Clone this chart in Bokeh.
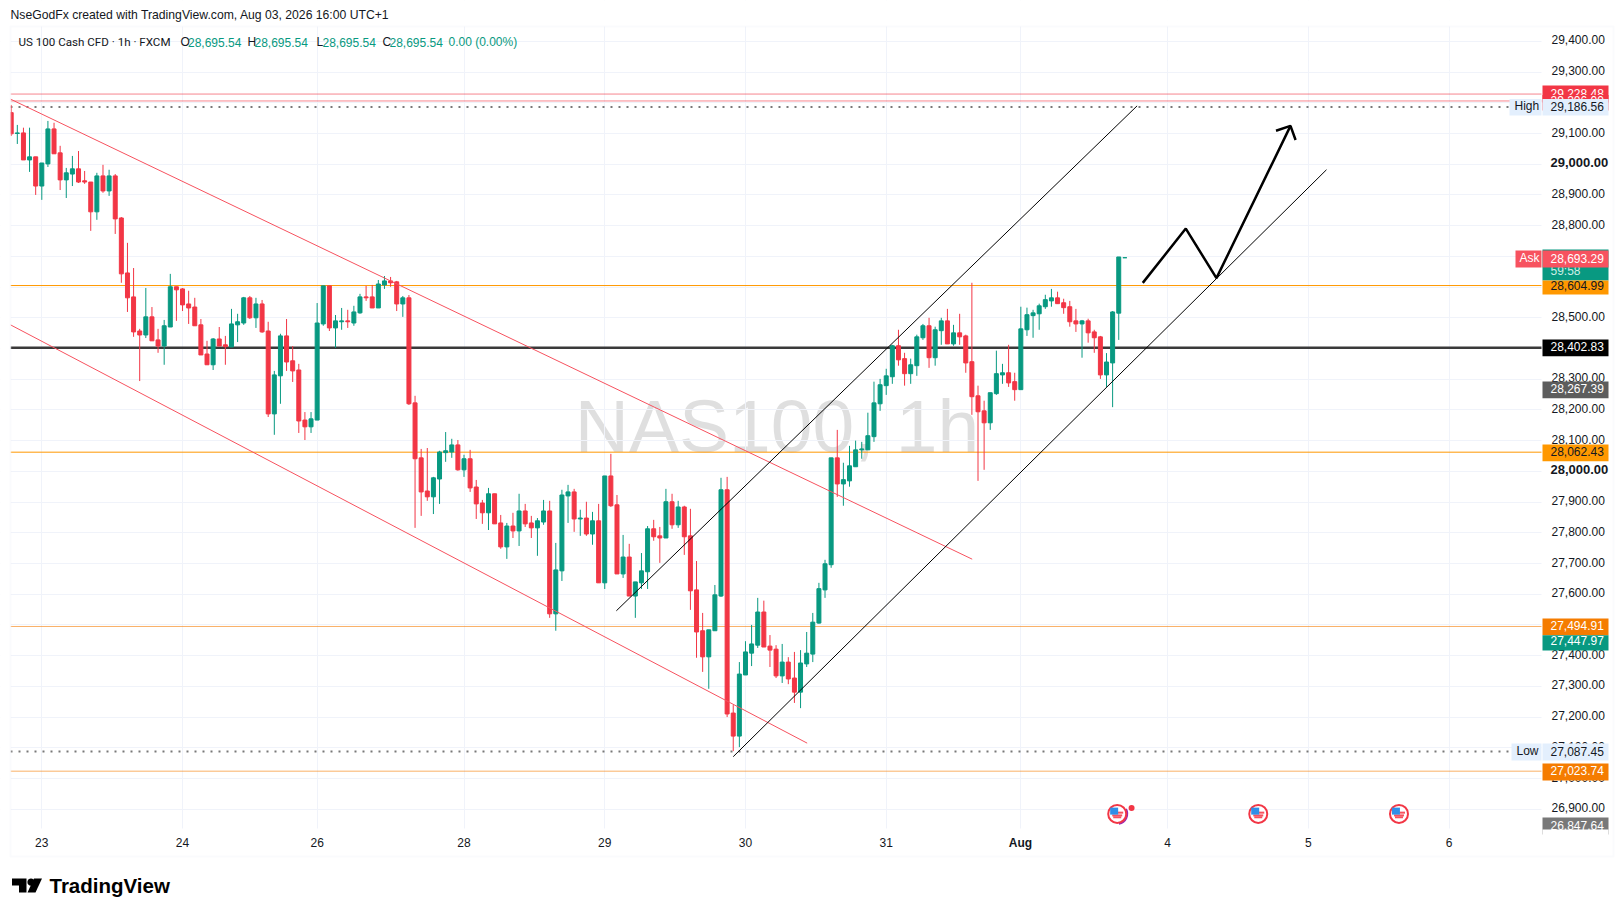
import math
import numpy as np
from bokeh.embed import file_html
from bokeh.resources import INLINE
from bokeh.plotting import figure
from bokeh.core.properties import value
from bokeh.models import (BoxAnnotation, FixedTicker, Grid, Label, LinearAxis,
                          NumeralTickFormatter, PolyAnnotation, Range1d)

opens = [29168,29100,29102,29014,29024,28929,29001,29115,29037,28949,
 28968,28985,28946,28942,28845,28962,28913,28962,28825,28646,
 28568,28457,28444,28503,28428,28408,28470,28601,28594,28545,
 28535,28477,28382,28347,28431,28412,28405,28477,28483,28565,
 28500,28545,28457,28187,28311,28441,28360,28330,28167,28145,
 28167,28480,28604,28467,28487,28490,28483,28516,28568,28568,
 28532,28607,28620,28617,28545,28565,28223,28044,27936,27917,
 27975,28061,28063,28086,28005,28041,27949,27897,27865,27927,
 27832,27754,27822,27806,27871,27832,27816,27835,27871,27536,
 27676,27920,27933,27845,27848,27796,27839,27637,27985,27891,
 27666,27721,27594,27637,27673,27813,27790,27783,27901,27826,
 27884,27790,27614,27481,27396,27481,27594,27940,27213,27138,
 27337,27408,27434,27542,27431,27421,27334,27379,27327,27281,
 27373,27405,27506,27614,27696,28044,27959,27969,28015,28070,
 28070,28113,28220,28279,28308,28409,28367,28318,28344,28435,
 28474,28370,28458,28490,28415,28451,28441,28357,28246,28197,
 28158,28253,28314,28321,28292,28266,28461,28507,28513,28536,
 28555,28565,28549,28536,28490,28480,28490,28454,28438,28314,28353,28515,28695.54]
highs = [29193,29128,29119,29119,29024,29004,29141,29135,29060,28988,
 29027,29043,28978,28942,28972,28998,28982,28968,28828,28744,
 28662,28464,28597,28535,28464,28493,28643,28601,28597,28588,
 28565,28496,28425,28434,28470,28441,28529,28513,28568,28571,
 28565,28558,28487,28327,28448,28496,28408,28350,28193,28193,
 28548,28604,28604,28509,28532,28526,28539,28578,28604,28607,
 28623,28636,28633,28620,28571,28574,28246,28073,28076,27982,
 28067,28128,28106,28102,28054,28070,27972,27907,27946,27927,
 27858,27832,27865,27927,27894,27855,27848,27907,27904,27767,
 27940,27956,27943,27875,27901,27868,27894,27985,28057,27923,
 27793,27764,27640,27734,27822,27842,27819,27943,27927,27904,
 27888,27878,27708,27539,27484,27630,27979,27982,27239,27379,
 27447,27500,27588,27579,27467,27434,27438,27395,27412,27418,
 27477,27539,27637,27712,28044,28135,28028,28083,28100,28096,
 28191,28292,28301,28334,28412,28461,28386,28367,28445,28480,
 28500,28471,28500,28529,28477,28513,28445,28614,28279,28230,
 28256,28393,28350,28412,28321,28536,28533,28526,28546,28575,
 28594,28585,28562,28555,28529,28493,28497,28461,28441,28385,28522,28698,28695.54]
lows = [29092,29066,29014,28975,28900,28884,28991,29034,28916,28890,
 28929,28939,28936,28783,28819,28907,28897,28773,28614,28519,
 28438,28294,28434,28425,28386,28347,28470,28490,28522,28480,
 28474,28379,28347,28330,28408,28347,28405,28421,28477,28496,
 28467,28451,28177,28119,28220,28327,28291,28125,28102,28125,
 28167,28474,28457,28402,28461,28467,28474,28513,28555,28532,
 28532,28594,28601,28522,28503,28216,27816,27855,27904,27861,
 27894,28031,28044,28002,27982,27933,27845,27829,27809,27829,
 27748,27715,27783,27757,27819,27783,27725,27826,27523,27481,
 27643,27832,27803,27790,27790,27761,27637,27617,27884,27666,
 27653,27594,27523,27617,27617,27774,27702,27783,27813,27816,
 27728,27549,27393,27347,27292,27481,27591,27200,27089,27102,
 27337,27366,27425,27428,27363,27327,27311,27307,27246,27229,
 27363,27379,27504,27588,27686,27917,27888,27950,28015,28041,
 28070,28096,28197,28249,28285,28344,28279,28285,28311,28428,
 28337,28344,28412,28415,28409,28412,28321,28184,27969,28005,
 28135,28249,28285,28275,28230,28266,28441,28435,28461,28529,
 28536,28546,28513,28471,28454,28370,28419,28386,28301,28275,28209,28428,28695.54]
closes = [29099,29102,29014,29024,28929,29004,29115,29034,28949,28972,
 28985,28942,28942,28845,28962,28913,28962,28822,28643,28565,
 28454,28444,28503,28425,28408,28474,28601,28591,28542,28532,
 28474,28379,28347,28431,28408,28406,28480,28487,28565,28500,
 28545,28454,28187,28314,28441,28356,28327,28164,28145,28171,
 28483,28604,28467,28490,28490,28487,28519,28568,28565,28532,
 28610,28620,28614,28545,28565,28220,28041,27933,27917,27979,
 28063,28067,28086,28005,28041,27946,27894,27865,27927,27829,
 27754,27822,27806,27871,27829,27816,27839,27871,27536,27679,
 27923,27933,27845,27848,27796,27839,27637,27985,27888,27666,
 27721,27594,27640,27676,27813,27787,27783,27901,27826,27884,
 27787,27611,27477,27396,27484,27598,27940,27210,27138,27340,
 27412,27438,27542,27428,27418,27334,27379,27324,27281,27376,
 27408,27509,27618,27699,28044,27959,27973,28018,28070,28073,
 28116,28223,28282,28311,28409,28363,28318,28347,28438,28474,
 28370,28461,28490,28415,28451,28438,28353,28243,28194,28158,
 28256,28318,28321,28288,28266,28464,28510,28516,28539,28559,
 28565,28546,28533,28487,28480,28490,28451,28435,28314,28356,28519,28698,28695.54]

day_bars = [6, 29, 51, 75, 98, 121, 144, 166, 190, 213, 236]
day_labels = ["23", "24", "26", "28", "29", "30", "31", "Aug", "4", "5", "6"]
price_ticks = list(range(26900, 29500, 100))

orange_levels = [28604.99, 28062.43]
soft_orange_levels = [27494.91, 27023.74]
red_levels = [29228.48, 29206.00]
black_level = 28402.83
high_price = 29186.56
low_price = 27087.45

red_lines = [([0.885, 158.05], [29212, 27714]), ([0.885, 131.08], [28477, 27115])]
black_lines = [([99.9, 185.0], [27546, 29190]), ([119.0, 215.95], [27071, 28982])]
path_bars = [185.93, 192.96, 197.97, 210.07]
path_prices = [28613.7, 28790.5, 28629, 29125]
head_bars = [207.7, 210.07, 210.9]
head_prices = [29109, 29125, 29079]

event_bars = [181.75, 204.8, 227.8]
event_price = 26884.7

GREEN, RED = "#089981", "#f23645"
FONT = "Liberation Sans"

idx = np.arange(1, len(opens) + 1)
o, h, l, c = map(np.array, (opens, highs, lows, closes))
colors = np.where(c >= o, GREEN, RED).tolist()

W, H = 1620, 912
x_lo, x_hi = -0.749, 264.0
y_lo, y_hi = 26563.6, 29533.1
p = figure(width=W, height=H, output_backend="svg", toolbar_location=None,
           x_range=Range1d(x_lo, x_hi), y_range=Range1d(y_lo, y_hi),
           x_axis_location=None, y_axis_location=None,
           min_border_left=0, min_border_right=0, min_border_top=0, min_border_bottom=0,
           outline_line_color=None, background_fill_color="white", border_fill_color="white")
p.grid.visible = False
p.extra_y_ranges = {"ax": Range1d(y_lo - 4.5, y_hi - 4.5)}

GRID = "#f0f3fa"
p.add_layout(Grid(dimension=0, ticker=FixedTicker(ticks=day_bars), grid_line_color=GRID))
p.add_layout(Grid(dimension=1, ticker=FixedTicker(ticks=price_ticks), grid_line_color=GRID))


def strip(x0, y0, x1, y1, level):
    p.add_layout(BoxAnnotation(left=x0, right=x1, top=y0, bottom=y1,
                               left_units="canvas", right_units="canvas", top_units="canvas", bottom_units="canvas",
                               fill_color="white", fill_alpha=1, line_color=None, level=level))


strip(0, 0, W, 26, "underlay")
strip(0, 828, W, H, "underlay")
strip(0, 0, 10, H, "underlay")
strip(1541, 0, W, H, "underlay")

yax = LinearAxis(y_range_name="ax", ticker=FixedTicker(ticks=price_ticks),
                 formatter=NumeralTickFormatter(format="0,0.00"),
                 axis_line_color=None, major_tick_line_color=None, minor_tick_line_color=None,
                 major_label_text_font=FONT, major_label_text_font_size="12px",
                 major_label_text_color="#131722", major_label_standoff=-75,
                 major_label_overrides={29000: "", 28000: ""})
p.add_layout(yax, "right")
xax = LinearAxis(ticker=FixedTicker(ticks=day_bars),
                 axis_line_color=None, major_tick_line_color=None, minor_tick_line_color=None,
                 major_label_text_font=FONT, major_label_text_font_size="12px",
                 major_label_text_color="#131722", major_label_standoff=-81,
                 major_label_overrides={b: ("" if t == "Aug" else t) for b, t in zip(day_bars, day_labels)})
p.add_layout(xax, "below")

# watermark
p.text(x=[93.1], y=[28149], text=["NAS100, 1h"], text_font=value(FONT), text_font_size=value("75px"),
       text_color="#808080", text_alpha=0.25, text_baseline="alphabetic", level="underlay")

# horizontal levels
x0, x1 = 0.885, 251.09
p.segment(x0=[x0]*2, x1=[x1]*2, y0=orange_levels, y1=orange_levels, line_color="#ff9800", line_width=1)
p.segment(x0=[x0]*2, x1=[x1]*2, y0=soft_orange_levels, y1=soft_orange_levels, line_color="#f57c00",
          line_alpha=0.6, line_width=1)
p.segment(x0=[x0]*2, x1=[x1]*2, y0=red_levels, y1=red_levels, line_color="#f23645", line_alpha=0.6, line_width=1)
p.segment(x0=[x0], x1=[x1], y0=[black_level], y1=[black_level], line_color="#3a3a3a", line_width=2.5)
p.segment(x0=[x0], x1=[245.86], y0=[high_price], y1=[high_price], line_color="#787878", line_width=2, line_dash="2 6")
p.segment(x0=[x0], x1=[246.2], y0=[low_price], y1=[low_price], line_color="#787878", line_width=2, line_dash="2 6")

# candles
p.segment(x0=idx, x1=idx, y0=l, y1=h, line_color=colors, line_width=1)
p.vbar(x=idx, top=np.maximum(o, c), bottom=np.minimum(o, c), width=0.65,
       fill_color=colors, line_color=colors, line_width=1)

# drawings
for xs, ys in red_lines:
    p.line(xs, ys, line_color="#f7525f", line_width=1)
for xs, ys in black_lines:
    p.line(xs, ys, line_color="#000000", line_width=1)
p.line(path_bars, path_prices, line_color="#000000", line_width=2.5)
p.line(head_bars, head_prices, line_color="#000000", line_width=2.5)

# event markers
ev_y = [event_price] * len(event_bars)
p.arc(x=[event_bars[0]], y=[event_price], radius=10, radius_units="screen", start_angle=-1.4, end_angle=0.5,
      line_color="#9c27b0", line_width=2)
p.scatter(x=[184.1], y=[26904], size=6, marker="circle", fill_color=RED, line_color=None)
p.scatter(x=event_bars, y=ev_y, size=18, marker="circle", fill_color="white", line_color="#f23645", line_width=2)
p.rect(x=event_bars, y=[event_price + 4]*3, width=12, height=2, width_units="screen", height_units="screen",
       fill_color="#f7525f", line_color=None)
p.rect(x=event_bars, y=[event_price - 5]*3, width=10, height=2, width_units="screen", height_units="screen",
       fill_color="#f7525f", line_color=None)
p.rect(x=event_bars, y=[event_price - 11]*3, width=8, height=2, width_units="screen", height_units="screen",
       fill_color="#f7525f", line_color=None)
p.rect(x=[b - 0.5 for b in event_bars], y=[event_price + 9]*3, width=8, height=7, width_units="screen", height_units="screen",
       fill_color="#2f8fe8", line_color=None)


def box(px0, py0, px1, py1, fill):
    p.add_layout(BoxAnnotation(left=px0, right=px1, top=py0, bottom=py1,
                               left_units="canvas", right_units="canvas", top_units="canvas", bottom_units="canvas",
                               fill_color=fill, fill_alpha=1, line_color=None))


def text(px, py, s, color="#131722", size="12px", style="normal", align="left", font=FONT):
    p.add_layout(Label(x=px, y=py, x_units="canvas", y_units="canvas", text=s, text_color=color,
                       text_font=font, text_font_size=size, text_font_style=style,
                       text_align=align, text_baseline="middle"))


# left clip of the first candle
strip(0, 26, 10, 828, "annotation")

TX = 1550
BX0, BX1 = 1542, 1608
text(TX, 161.5, "29,000.00", size="13px", style="bold")
text(TX, 469.2, "28,000.00", size="13px", style="bold")
text(1020, 842, "Aug", size="12px", style="bold", align="center")

box(BX0, 85, BX1, 102, RED); text(TX, 93, "29,228.48", "white")
box(BX0, 94.5, BX1, 110, RED); text(TX, 100, "29,206.00", "white")
box(1509, 98.5, 1541, 115, "#e3effd"); text(1514, 105.5, "High")
box(BX0, 98.5, BX1, 115, "#e3effd"); text(TX, 105.5, "29,186.56")

box(BX0, 249, BX1, 280, GREEN); text(TX, 270.5, "59:58", "#cdeee6")
box(BX0, 280, BX1, 294, "#ff9800"); text(TX, 284.5, "28,604.99", "#131722")
box(1515, 250, 1541, 267, "#f7525f"); text(1519, 257.5, "Ask", "white")
box(BX0, 250, BX1, 267, "#f7525f"); text(TX, 257.5, "28,693.29", "white")

box(BX0, 339, BX1, 355.7, "#000000"); text(TX, 346, "28,402.83", "white")
box(BX0, 381, BX1, 397.7, "#5d5d5d"); text(TX, 388, "28,267.39", "white")
box(BX0, 444, BX1, 460.7, "#ff9800"); text(TX, 451, "28,062.43", "#131722")
box(BX0, 618, BX1, 634.7, "#f57c00"); text(TX, 625, "27,494.91", "white")
box(BX0, 634.7, BX1, 650, GREEN); text(TX, 640, "27,447.97", "white")
box(1511, 743, 1541, 760, "#e3effd"); text(1516, 750.5, "Low")
box(BX0, 743, BX1, 760, "#e3effd"); text(TX, 750.5, "27,087.45")
box(BX0, 763, BX1, 780, "#f57c00"); text(TX, 770, "27,023.74", "white")
box(BX0, 817, BX1, 834, "#787878"); text(TX, 825, "26,847.64", "white")
box(BX0, 829, BX1, 836, "white")

# panel border
p.add_layout(BoxAnnotation(left=10, right=1613, top=26, bottom=856,
                           left_units="canvas", right_units="canvas", top_units="canvas", bottom_units="canvas",
                           fill_alpha=0, line_color="#f0f3fa", line_width=2))

# header
text(10, 14.5, "NseGodFx created with TradingView.com, Aug 03, 2026 16:00 UTC+1", size="12.2px")
text(18, 41.5, "US 100 Cash CFD \u00b7 1h \u00b7 FXCM", size="11.6px", font="Roboto")
for px, s, col in [(180, "O", "#131722"), (187.5, "28,695.54", GREEN), (247, "H", "#131722"), (254, "28,695.54", GREEN),
                   (316, "L", "#131722"), (322, "28,695.54", GREEN), (382, "C", "#131722"), (389, "28,695.54", GREEN),
                   (448, "0.00 (0.00%)", GREEN)]:
    text(px, 41.5, s, col)

# logo
def poly(xs, ys):
    p.add_layout(PolyAnnotation(xs=xs, ys=ys, xs_units="canvas", ys_units="canvas",
                                fill_color="#000000", fill_alpha=1, line_color=None))


poly([11.5, 26, 26, 18.5, 18.5, 11.5], [878, 878, 892, 892, 885, 885])
poly([30.5 + 3.6 * math.cos(a * math.pi / 8) for a in range(16)],
     [881.6 + 3.6 * math.sin(a * math.pi / 8) for a in range(16)])
poly([33.5, 41.5, 35, 27], [878, 878, 892, 892])
text(49, 885, "TradingView", "#000000", size="20.5px", style="bold")

open("out.html", "w").write(file_html(p, INLINE))
